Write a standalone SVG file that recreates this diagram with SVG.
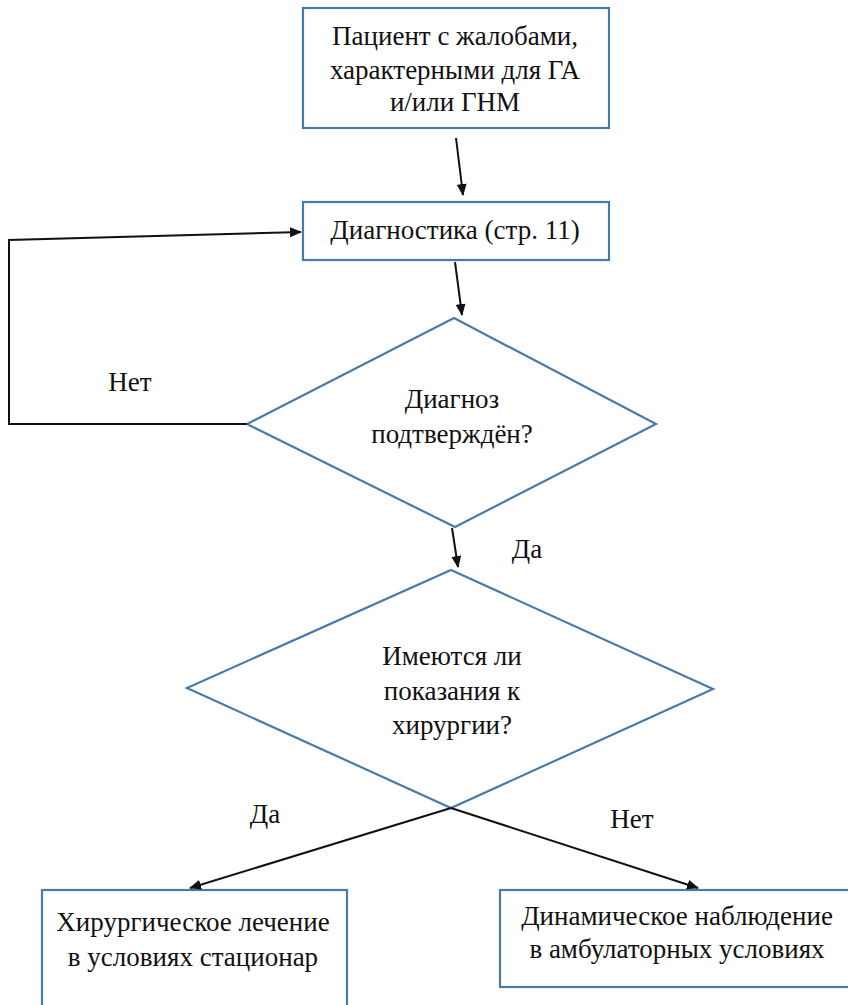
<svg xmlns="http://www.w3.org/2000/svg" width="848" height="1005" viewBox="0 0 848 1005" font-family="Liberation Serif, Times New Roman, serif">
<style>
.box{fill:#fff;stroke:#4a7aa8;stroke-width:2.2}
.t{font-size:27px;fill:#111;text-anchor:middle}
.c{fill:none;stroke:#111;stroke-width:2}
</style>
<defs>
<marker id="ah" viewBox="0 0 12 10" refX="11" refY="5" markerWidth="12" markerHeight="10" markerUnits="userSpaceOnUse" orient="auto">
<path d="M0,0 L12,5 L0,10 z" fill="#111"/>
</marker>
</defs>
<rect width="848" height="1005" fill="#fff"/>
<g id="n1">
<rect class="box" x="303" y="8" width="306" height="120"/>
<text class="t" x="455" y="45">Пациент с жалобами,</text>
<text class="t" x="455" y="79">характерными для ГА</text>
<text class="t" x="455" y="111">и/или ГНМ</text>
</g>
<g id="n2">
<rect class="box" x="303" y="202" width="306" height="58"/>
<text class="t" x="455" y="239">Диагностика (стр. 11)</text>
</g>
<g id="d1">
<polygon class="box" points="454,318 656,424 455,527 247,424"/>
<text class="t" x="452" y="408">Диагноз</text>
<text class="t" x="452" y="443">подтверждён?</text>
</g>
<g id="d2">
<polygon class="box" points="451,570 713,689 451,808 187,688"/>
<text class="t" x="452" y="665">Имеются ли</text>
<text class="t" x="452" y="700">показания к</text>
<text class="t" x="452" y="734">хирургии?</text>
</g>
<g id="n3">
<rect class="box" x="42" y="890" width="305" height="125"/>
<text class="t" x="193" y="931">Хирургическое лечение</text>
<text class="t" x="193" y="966">в условиях стационар</text>
</g>
<g id="n4">
<rect class="box" x="500" y="890" width="360" height="97"/>
<text class="t" x="677" y="925">Динамическое наблюдение</text>
<text class="t" x="677" y="958">в амбулаторных условиях</text>
</g>
<g id="connectors">
<line class="c" x1="456" y1="138" x2="463" y2="195" marker-end="url(#ah)"/>
<line class="c" x1="455" y1="262" x2="462" y2="315" marker-end="url(#ah)"/>
<line class="c" x1="452" y1="528" x2="458" y2="567" marker-end="url(#ah)"/>
<polyline class="c" points="247,424 9,424 9,240 301,232" marker-end="url(#ah)"/>
<line class="c" x1="451" y1="808" x2="190" y2="888" marker-end="url(#ah)"/>
<line class="c" x1="451" y1="808" x2="698" y2="888" marker-end="url(#ah)"/>
</g>
<g id="labels">
<text class="t" x="130" y="391">Нет</text>
<text class="t" x="527" y="558">Да</text>
<text class="t" x="265" y="823">Да</text>
<text class="t" x="632" y="828">Нет</text>
</g>
</svg>
